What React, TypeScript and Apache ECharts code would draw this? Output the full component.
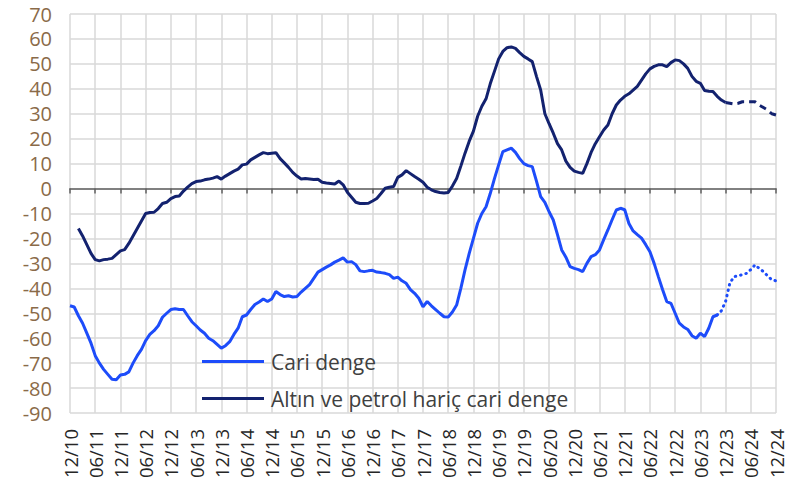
import React, { useEffect, useRef } from "react";
import * as echarts from "echarts";

// Monthly categories from 12/2010 to 12/2024
const startYear = 2010;
const startMonth = 12;
const monthCount = 169;
const categories: string[] = [];
for (let i = 0; i < monthCount; i++) {
  const m0 = startMonth - 1 + i;
  const y = startYear + Math.floor(m0 / 12);
  const m = (m0 % 12) + 1;
  categories.push(String(m).padStart(2, "0") + "/" + String(y % 100).padStart(2, "0"));
}

const yTicks = { min: -90, max: 70, interval: 10 };

const seriesNames = ["Cari denge", "Altın ve petrol hariç cari denge"];

// Cari denge (12-month cumulative, bn USD)
const cariDenge: number[] = [
  -47, -47.5, -51, -54, -58, -62, -67, -70, -72.5, -74.5, -76.5, -76.7,
  -74.8, -74.5, -73.5, -70, -67, -64.5, -61, -58.5, -57, -55, -51.6, -50,
  -48.5, -48.2, -48.5, -48.5, -51, -53.4, -55, -56.7, -58, -60, -61, -62.5,
  -64, -63, -61.4, -58.5, -56, -51.4, -50.7, -48.5, -46.5, -45.5, -44.3, -45.3,
  -44.3, -41.3, -42.5, -43.3, -43, -43.5, -43.3, -41.5, -40, -38.5, -36, -33.5,
  -32.5, -31.5, -30.6, -29.5, -28.7, -27.8, -29.5, -29.3, -30.5, -33, -33.3, -33,
  -32.8, -33.5, -33.7, -34, -34.5, -36, -35.5, -37, -38, -40.5, -42, -44,
  -47.4, -45.3, -47, -48.5, -50, -51.4, -51.5, -49.5, -46.7, -40, -32.6, -26,
  -20, -13.9, -10, -7.3, -2, 4, 9.5, 14.8, 15.5, 16.2, 14.5, 12,
  10, 9.2, 8.8, 3, -3.2, -5.5, -9.3, -12.6, -18.5, -24.6, -27.5, -31.3,
  -32, -32.5, -33.3, -30, -27.3, -26.5, -24.6, -20.5, -16.6, -12.5, -8.6, -7.9,
  -8.5, -14, -17, -18.5, -19.9, -22.5, -25.3, -30, -35.3, -40.5, -45.3, -46,
  -50, -54, -55.5, -56.5, -59, -60, -58, -59.4, -56, -51.4, -50.7, -49,
  -45.3, -38, -35.3, -35, -34.5, -34, -32.5, -30.6, -32, -33.3, -35, -36.6,
  -37,
];

// Altın ve petrol hariç cari denge (starts 02/11)
const exGoldOil: (number | null)[] = [
  null, null, -16, -19, -22.5, -26, -28.5, -29, -28.5, -28.3, -28, -26.5,
  -25, -24.5, -22, -19, -16, -13, -10, -9.6, -9.5, -8, -6, -5.5,
  -4, -3.2, -3, -1, 0.6, 2, 2.8, 3, 3.5, 3.8, 4.2, 4.8,
  3.8, 5, 6, 7, 7.8, 9.5, 9.8, 11.5, 12.5, 13.5, 14.4, 14,
  14.2, 14.4, 12, 10.3, 8.5, 6.5, 5, 3.8, 4, 3.8, 3.6, 3.7,
  2.5, 2.2, 2, 1.8, 3, 1.5, -1.5, -3.5, -5.5, -6, -6, -5.9,
  -5, -4, -2, 0.1, 0.5, 0.8, 4.5, 5.5, 7.2, 6, 4.8, 3.7,
  2.5, 0.5, -0.5, -1.2, -1.6, -1.8, -1.6, 1, 4, 9, 14.2, 19,
  23, 29, 33, 36, 42, 47, 52, 55, 56.5, 56.8, 56.2, 54.5,
  53, 52, 50.9, 45, 39.5, 30, 26, 22.2, 18, 15.5, 11, 8.5,
  7, 6.5, 6.1, 10, 14.5, 18, 20.8, 23.5, 25.5, 30, 33.5, 35.5,
  37, 38, 39.5, 41, 43.5, 46, 48, 49, 49.6, 49.6, 48.9, 50.5,
  51.6, 51.3, 50, 48.2, 45, 43, 42.2, 39.3, 39, 38.9, 37, 35.5,
  34.5, 34.2, 33.9, 34.2, 34.8, 34.8, 34.8, 34.8, 33.5, 32.5, 31.5, 30,
  29.5,
];

// index where the forecast (dotted / dashed) part begins
const cariForecastFrom = 154;
const exForecastFrom = 156;

const lightBlue = "#1d4cfa";
const navy = "#13226f";
const FONT = "'Open Sans', 'DejaVu Sans', sans-serif";

function part(arr: (number | null)[], from: number, to: number) {
  return arr.map((v, i) => (i >= from && i <= to ? v : null));
}

const sixMonth = (idx: number) => idx % 6 === 0;

export default function App() {
  const ref = useRef<HTMLDivElement>(null);
  useEffect(() => {
    if (!ref.current) return;
    const chart = echarts.init(ref.current, undefined, { renderer: "svg" });
    const last = monthCount - 1;
    chart.setOption({
      animation: false,
      backgroundColor: "#ffffff",
      grid: { left: 70, top: 14, right: 11, bottom: 76, containLabel: false },
      legend: {
        data: seriesNames,
        orient: "vertical",
        left: 197,
        top: 346,
        itemWidth: 62,
        itemHeight: 3,
        icon: "rect",
        itemGap: 16,
        textStyle: { fontFamily: FONT, fontSize: 21, lineHeight: 21, color: "#404040", padding: [0, 0, 0, 2] },
      },
      xAxis: [
        {
          type: "category",
          data: categories,
          boundaryGap: false,
          position: "bottom",
          axisLine: { show: false, onZero: false },
          axisTick: { show: false },
          axisLabel: {
            interval: (i: number) => sixMonth(i),
            rotate: 90,
            margin: 16,
            fontFamily: FONT,
            fontSize: 18.5,
            color: "#262626",
          },
          splitLine: {
            show: true,
            interval: (i: number) => sixMonth(i),
            lineStyle: { color: "#d9d9d9", width: 1.5 },
          },
        },
        {
          type: "category",
          data: categories,
          boundaryGap: false,
          position: "bottom",
          axisLine: { show: true, onZero: true, lineStyle: { color: "#606060", width: 1.5 } },
          axisTick: {
            show: true,
            interval: (i: number) => sixMonth(i),
            length: 5,
            lineStyle: { color: "#606060", width: 1.5 },
          },
          axisLabel: { show: false },
          splitLine: { show: false },
        },
      ],
      yAxis: {
        type: "value",
        min: yTicks.min,
        max: yTicks.max,
        interval: yTicks.interval,
        axisLine: { show: false },
        axisTick: { show: false },
        axisLabel: {
          margin: 18,
          fontFamily: FONT,
          fontSize: 20,
          lineHeight: 20,
          color: "#8a6a48",
        },
        splitLine: { show: true, lineStyle: { color: "#d9d9d9", width: 1.5 } },
      },
      series: [
        {
          name: seriesNames[0],
          type: "line",
          data: part(cariDenge, 0, cariForecastFrom),
          symbol: "none",
          lineStyle: { color: lightBlue, width: 3 },
          itemStyle: { color: lightBlue },
          z: 3,
        },
        {
          name: seriesNames[0] + " (tahmin)",
          type: "line",
          data: part(cariDenge, cariForecastFrom, last),
          symbol: "none",
          lineStyle: { color: lightBlue, width: 3, type: [0.5, 5], cap: "round" },
          itemStyle: { color: lightBlue },
          z: 3,
        },
        {
          name: seriesNames[1],
          type: "line",
          data: part(exGoldOil, 0, exForecastFrom),
          symbol: "none",
          lineStyle: { color: navy, width: 3 },
          itemStyle: { color: navy },
          z: 3,
        },
        {
          name: seriesNames[1] + " (tahmin)",
          type: "line",
          data: part(exGoldOil, exForecastFrom, last),
          symbol: "none",
          lineStyle: { color: navy, width: 3, type: [7, 5] },
          itemStyle: { color: navy },
          z: 3,
        },
      ],
    });
    return () => chart.dispose();
  }, []);
  return <div ref={ref} style={{ width: 787, height: 489, position: "absolute", left: 0, top: 0 }} />;
}
